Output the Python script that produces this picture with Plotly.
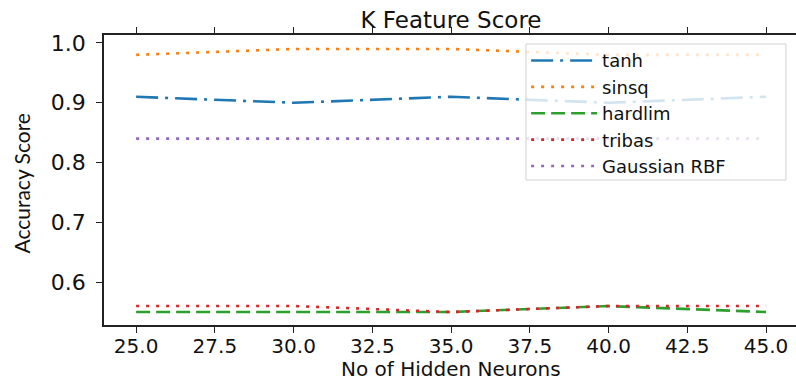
import plotly.graph_objects as go

neurons = [25, 30, 35, 40, 45]
tanh = [0.91, 0.90, 0.91, 0.90, 0.91]
sinsq = [0.98, 0.99, 0.99, 0.98, 0.98]
hardlim = [0.55, 0.55, 0.55, 0.56, 0.55]
tribas = [0.56, 0.56, 0.55, 0.56, 0.56]
gaussian_rbf = [0.84, 0.84, 0.84, 0.84, 0.84]

x_ticks = [25.0, 27.5, 30.0, 32.5, 35.0, 37.5, 40.0, 42.5, 45.0]
y_ticks = [0.6, 0.7, 0.8, 0.9, 1.0]

series = [
    ("tanh", tanh, "#1f77b4", "22px,7px,3px,7px"),
    ("sinsq", sinsq, "#ff7f0e", "3px,7px"),
    ("hardlim", hardlim, "#2ca02c", "14px,6px"),
    ("tribas", tribas, "#d62728", "3px,7px"),
    ("Gaussian RBF", gaussian_rbf, "#9467bd", "3px,7px"),
]

fig = go.Figure()
for name, vals, color, dash in series:
    fig.add_trace(go.Scatter(
        x=neurons, y=vals, name=name, mode="lines",
        line=dict(color=color, width=2.6, dash=dash),
    ))

font_main = "DejaVu Sans"
fig.update_layout(
    width=796, height=381,
    margin=dict(l=104, r=0, t=35, b=56, autoexpand=False),
    paper_bgcolor="white", plot_bgcolor="white",
    title=dict(text="K Feature Score", x=451 / 796, xref="container", xanchor="center",
               y=1 - 20 / 381, yanchor="middle", yref="container",
               font=dict(family=font_main, size=23, color="#111")),
    legend=dict(x=0.61, y=0.975, xanchor="left", yanchor="top",
                bgcolor="rgba(0,0,0,0)", borderwidth=0,
                font=dict(family=font_main, size=18, color="#111"),
                itemwidth=66, tracegroupgap=0),
    showlegend=True,
    shapes=[
        dict(type="rect", xref="paper", yref="paper", layer="above",
             x0=0.6098, x1=0.9855, y0=0.50, y1=0.969,
             fillcolor="rgba(255,255,255,0.8)", line=dict(color="#d0d0d0", width=1)),
    ],
    annotations=[
        dict(text="No of Hidden Neurons", xref="paper", yref="paper",
             x=0.501, y=-0.15, xanchor="center", yanchor="middle", showarrow=False,
             font=dict(family=font_main, size=20, color="#111")),
        dict(text="Accuracy Score", xref="paper", yref="paper", textangle=-90,
             x=-0.119, y=0.49, xanchor="center", yanchor="middle", showarrow=False,
             font=dict(family="Lato", size=21, color="#111")),
    ],
)
fig.update_xaxes(
    range=[23.98, 45.95], tickvals=x_ticks, ticktext=[f"{v:.1f}" for v in x_ticks],
    showgrid=False, zeroline=False, showline=True, linecolor="#222", linewidth=1.5,
    ticks="outside", ticklen=6, tickwidth=1.3, tickcolor="#222", mirror="ticks",
    automargin=False, ticklabelstandoff=-4,
    tickfont=dict(family=font_main, size=20, color="#111"),
)
fig.update_yaxes(
    range=[0.5283, 1.0133], tickvals=y_ticks, ticktext=[f"{v:.1f}" for v in y_ticks],
    showgrid=False, zeroline=False, showline=True, linecolor="#222", linewidth=1.5,
    ticks="outside", ticklen=6, tickwidth=1.3, tickcolor="#222", mirror=True,
    automargin=False, ticklabelstandoff=6,
    tickfont=dict(family=font_main, size=22, color="#111"),
)

fig.write_html("out.html", config={"displayModeBar": False},
               post_script="document.body.style.margin='0px';")
